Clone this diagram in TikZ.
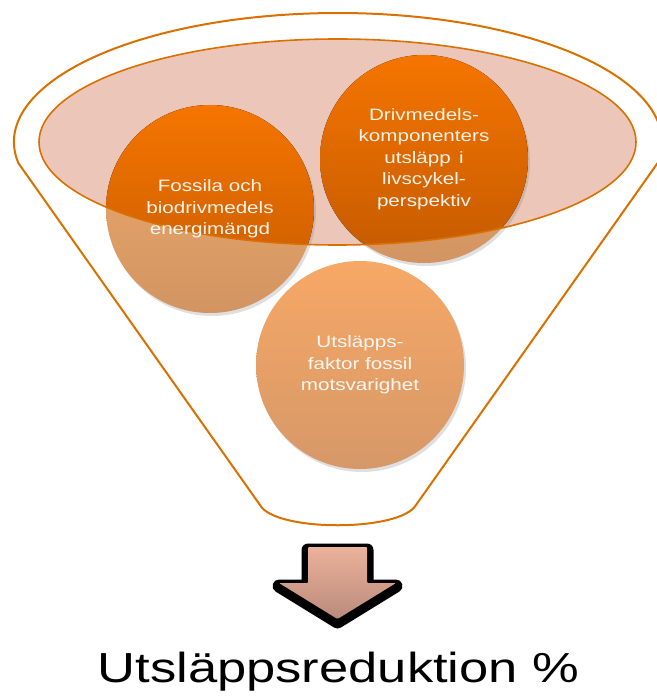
\documentclass[tikz,border=0pt]{standalone}
\usepackage{fontspec}
\setmainfont{Liberation Sans}
\newfontfamily\bred[FakeStretch=1.25]{Liberation Sans}
\usetikzlibrary{shadows}
\definecolor{trattkant}{HTML}{D97000}
\definecolor{rosa}{HTML}{ECC6B8}
\definecolor{starkTop}{HTML}{F57500}
\definecolor{starkBot}{HTML}{C45A00}
\definecolor{mattTop}{HTML}{F0AC6C}
\definecolor{mattBot}{HTML}{D29462}
\definecolor{ljusTop}{HTML}{F7A866}
\definecolor{ljusBot}{HTML}{D69868}
\definecolor{pilTop}{HTML}{EBB29B}
\definecolor{pilBot}{HTML}{BA8B7B}

\begin{document}
\begin{tikzpicture}[
    x=1pt, y=-1pt,
    kant/.style={draw=trattkant, line width=2pt},
    boll/.style={circle, minimum size=208pt, inner sep=0pt,
        drop shadow={opacity=0.25, shadow xshift=2pt, shadow yshift=-3pt}},
    matt/.style={top color=mattTop, bottom color=mattBot},
    ljus/.style={top color=ljusTop, bottom color=ljusBot},
    stark/.style={top color=starkTop, bottom color=starkBot},
    boltext/.style={align=center, text=white, text opacity=0.92,
        font=\bred\fontsize{16.5}{21.5}\selectfont},
]
    \useasboundingbox (0,0) rectangle (656,700);

    \draw[kant, line join=round] (18.3,163)
        arc [start angle=189.37, end angle=-9.37, x radius=324pt, y radius=129pt]
        -- (416,505) .. controls (400,532) and (275,532) .. (260,505) -- cycle;

    \fill[rosa] (337.5,142) ellipse [x radius=298.5, y radius=103];

    \node[boll, matt] (fossil) at (210,209) {};
    \node[boll, matt] (komp) at (424,159) {};
    \node[boll, ljus] (faktor) at (360,365) {};

    \begin{scope}
        \clip (337.5,142) ellipse [x radius=298.5, y radius=103];
        \fill[stark] (fossil.center) circle [radius=104];
        \fill[stark] (komp.center) circle [radius=104];
    \end{scope}
    \draw[draw=trattkant, line width=1.6pt] (337.5,142) ellipse [x radius=298.5, y radius=103];

    \node[boltext] (fossiltext) at (fossil) {Fossila och\\biodrivmedels\\energimängd};
    \node[boltext] (komptext) at (komp) {Drivmedels-\\komponenters\\utsläpp\enspace i\\livscykel-\\perspektiv};
    \node[boltext] (faktortext) at (faktor) {Utsläpps-\\faktor fossil\\motsvarighet};

    \path[fill=black, draw=black, line width=13pt, line join=round, yshift=-3pt]
        (308,547) -- (367,547) -- (367,583) -- (396,583) -- (337.5,619)
        -- (279,583) -- (308,583) -- cycle;
    \fill[top color=pilTop, bottom color=pilBot, rounded corners=1pt]
        (308,547) -- (367,547) -- (367,583) -- (396,583) -- (337.5,619)
        -- (279,583) -- (308,583) -- cycle;

    \node[anchor=base, inner sep=0pt, font=\bred\fontsize{42}{48}\selectfont]
        (resultat) at (338.5,682) {Utsläppsreduktion \%};
\end{tikzpicture}
\end{document}
